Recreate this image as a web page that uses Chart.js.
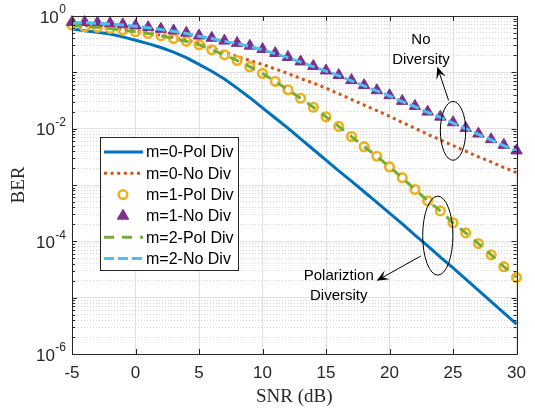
<!DOCTYPE html>
<html>
<head>
<meta charset="utf-8">
<script src="https://cdn.jsdelivr.net/npm/chart.js@4.4.1/dist/chart.umd.min.js"></script>
<style>
  html, body { margin: 0; padding: 0; background: #fff; }
</style>
</head>
<body>
<canvas id="chart" width="535" height="409"></canvas>
<script>
// SNR (dB) axis values, one marker per dB
const snr = [-5,-4,-3,-2,-1,0,1,2,3,4,5,6,7,8,9,10,11,12,13,14,15,16,17,18,19,20,21,22,23,24,25,26,27,28,29,30]

// log10(BER)
const m0Pol = [-0.23,-0.26,-0.29,-0.32,-0.37,-0.43,-0.49,-0.56,-0.64,-0.74,-0.86,-0.98,-1.12,-1.28,-1.45,-1.63,-1.81,-1.99,-2.18,-2.37,-2.56,-2.75,-2.93,-3.12,-3.31,-3.50,-3.69,-3.89,-4.08,-4.28,-4.47,-4.67,-4.87,-5.07,-5.27,-5.47]
const m0No  = [-0.15,-0.17,-0.19,-0.21,-0.24,-0.27,-0.30,-0.34,-0.38,-0.43,-0.48,-0.56,-0.64,-0.72,-0.79,-0.86,-0.94,-1.02,-1.11,-1.19,-1.28,-1.38,-1.48,-1.58,-1.68,-1.78,-1.89,-1.99,-2.10,-2.20,-2.30,-2.40,-2.50,-2.59,-2.69,-2.78]
const m1Pol = [-0.16,-0.19,-0.20,-0.22,-0.25,-0.28,-0.31,-0.35,-0.40,-0.45,-0.51,-0.60,-0.69,-0.79,-0.90,-1.02,-1.16,-1.31,-1.46,-1.62,-1.79,-1.96,-2.14,-2.32,-2.49,-2.68,-2.87,-3.08,-3.28,-3.46,-3.67,-3.85,-4.04,-4.24,-4.45,-4.64]
const m1No  = [-0.11,-0.11,-0.12,-0.13,-0.15,-0.17,-0.20,-0.23,-0.26,-0.30,-0.35,-0.39,-0.44,-0.48,-0.53,-0.59,-0.66,-0.73,-0.81,-0.89,-0.97,-1.05,-1.14,-1.23,-1.32,-1.41,-1.51,-1.60,-1.70,-1.79,-1.89,-1.99,-2.09,-2.19,-2.29,-2.39]
const m2Pol = [-0.16,-0.19,-0.20,-0.22,-0.25,-0.28,-0.31,-0.35,-0.40,-0.45,-0.51,-0.60,-0.69,-0.79,-0.90,-1.02,-1.16,-1.31,-1.46,-1.62,-1.79,-1.96,-2.14,-2.32,-2.49,-2.68,-2.87,-3.08,-3.28,-3.46,-3.67,-3.85,-4.04,-4.24,-4.45,-4.64]
const m2No  = [-0.12,-0.12,-0.13,-0.14,-0.16,-0.18,-0.21,-0.24,-0.27,-0.31,-0.36,-0.40,-0.45,-0.49,-0.54,-0.60,-0.67,-0.74,-0.82,-0.90,-0.98,-1.06,-1.15,-1.24,-1.33,-1.42,-1.52,-1.61,-1.71,-1.80,-1.90,-2.00,-2.10,-2.20,-2.30,-2.40]

const labels = ['m=0-Pol Div','m=0-No Div','m=1-Pol Div','m=1-No Div','m=2-Pol Div','m=2-No Div']

// y axis decades (labelled) and minor multipliers
const yDecades = [0,-2,-4,-6]
const yMinor = [2,3,4,5,6,7,8,9]
const xTicks = [-5,0,5,10,15,20,25,30]

const toPts = (arr) => arr.map((v, i) => ({x: snr[i], y: Math.pow(10, v)}))

const AXIS = '#262626'

const datasets = [
  {label: labels[0], data: toPts(m0Pol), borderColor: '#0072BD', borderWidth: 3, pointRadius: 0, order: 6},
  {label: labels[1], data: toPts(m0No), borderColor: '#D95319', borderWidth: 3, borderDash: [3, 3.6], borderCapStyle: 'butt', pointRadius: 0, order: 5},
  {label: labels[2], data: toPts(m1Pol), showLine: false, pointStyle: 'circle', pointRadius: 4.3, pointBorderWidth: 2.6,
    pointBorderColor: '#EDB120', pointBackgroundColor: 'rgba(255,255,255,0)', borderColor: '#EDB120', order: 4},
  {label: labels[3], data: toPts(m1No), showLine: false, pointStyle: 'triangle', pointRadius: 6.6, pointBorderWidth: 1,
    pointBorderColor: '#7E2F8E', pointBackgroundColor: '#7E2F8E', borderColor: '#7E2F8E', order: 3},
  {label: labels[4], data: toPts(m2Pol), borderColor: '#77AC30', borderWidth: 3, borderDash: [10, 8], pointRadius: 0, order: 2},
  {label: labels[5], data: toPts(m2No), borderColor: '#4DBEEE', borderWidth: 3, borderDash: [10, 4], pointRadius: 0, order: 1},
]
datasets.forEach(d => { d.fill = false; d.tension = 0; d.clip = false })

/* ticks, y labels, legend box and the two annotations */
const decorations = {
  id: 'decorations',
  afterDraw(chart) {
    const {ctx, chartArea: a} = chart
    const x = chart.scales.x, y = chart.scales.y
    ctx.save()

    // inward ticks
    ctx.strokeStyle = AXIS
    ctx.lineWidth = 1
    ctx.beginPath()
    xTicks.forEach(v => {
      const px = Math.round(x.getPixelForValue(v)) + 0.5
      ctx.moveTo(px, a.bottom); ctx.lineTo(px, a.bottom - 5)
      ctx.moveTo(px, a.top); ctx.lineTo(px, a.top + 5)
    })
    y.ticks.forEach(t => {
      const py = Math.round(y.getPixelForValue(t.value)) + 0.5
      const len = t.major ? 5 : 3
      ctx.moveTo(a.left, py); ctx.lineTo(a.left + len, py)
      ctx.moveTo(a.right, py); ctx.lineTo(a.right - len, py)
    })
    ctx.stroke()

    // box
    ctx.strokeRect(Math.round(a.left) + 0.5, Math.round(a.top) + 0.5,
      Math.round(a.right - a.left), Math.round(a.bottom - a.top))

    // y labels 10^n
    ctx.fillStyle = AXIS
    ctx.textBaseline = 'middle'
    yDecades.forEach(e => {
      const py = y.getPixelForValue(Math.pow(10, e))
      const sup = String(e)
      ctx.font = '12px "Liberation Sans", Arial, sans-serif'
      const wSup = ctx.measureText(sup).width
      const right = a.left - 6
      ctx.textAlign = 'left'
      ctx.fillText(sup, right - wSup, py - 6)
      ctx.font = '17px "Liberation Sans", Arial, sans-serif'
      ctx.textAlign = 'right'
      ctx.fillText('10', right - wSup - 0.5, py + 2)
    })

    // legend
    const lx = 100, ly = 137, lw = 138, lh = 133
    ctx.fillStyle = '#fff'
    ctx.fillRect(lx, ly, lw, lh)
    ctx.strokeStyle = AXIS
    ctx.strokeRect(lx + 0.5, ly + 0.5, lw, lh)
    chart.data.datasets.forEach((d, i) => {
      const cy = 152 + i * 21.3
      if (d.showLine !== false) {
        ctx.save()
        ctx.strokeStyle = d.borderColor
        ctx.lineWidth = d.borderWidth
        ctx.setLineDash(d.borderDash || [])
        ctx.beginPath(); ctx.moveTo(104, cy); ctx.lineTo(143, cy); ctx.stroke()
        ctx.restore()
      }
      if (d.pointRadius > 0) drawMarker(ctx, d, 123, cy)
      ctx.fillStyle = '#000'
      ctx.font = '16px "Liberation Sans", Arial, sans-serif'
      ctx.textAlign = 'left'
      ctx.textBaseline = 'middle'
      ctx.fillText(d.label, 146, cy + 1)
    })

    // annotations
    ctx.strokeStyle = '#000'
    ctx.fillStyle = '#000'
    ctx.lineWidth = 1
    const P = (sx, e) => [x.getPixelForValue(sx), y.getPixelForValue(Math.pow(10, e))]
    const ellipse = (sx, eTop, eBot, dx) => {
      const [cx] = P(sx, 0)
      const top = P(sx, eTop)[1], bot = P(sx, eBot)[1]
      const rx = x.getPixelForValue(sx + dx) - cx
      ctx.beginPath()
      ctx.ellipse(cx, (top + bot) / 2, rx, (bot - top) / 2, 0, 0, Math.PI * 2)
      ctx.stroke()
    }
    const arrow = (from, to) => {
      const [x1, y1] = from, [x2, y2] = to
      const ang = Math.atan2(y2 - y1, x2 - x1)
      const c = Math.cos(ang), s = Math.sin(ang)
      ctx.beginPath(); ctx.moveTo(x1, y1)
      ctx.lineTo(x2 - 7 * c, y2 - 7 * s); ctx.stroke()
      ctx.beginPath()
      ctx.moveTo(x2, y2)
      ctx.lineTo(x2 - 12 * c + 5 * s, y2 - 12 * s - 5 * c)
      ctx.lineTo(x2 - 7 * c, y2 - 7 * s)
      ctx.lineTo(x2 - 12 * c - 5 * s, y2 - 12 * s + 5 * c)
      ctx.closePath(); ctx.fill()
    }
    ellipse(25, -1.517, -2.561, 1.0)
    arrow(P(24.65, -1.50), P(23.76, -0.90))
    ellipse(23.8, -3.198, -4.60, 1.19)
    arrow(P(22.47, -4.26), P(18.98, -4.70))

    ctx.font = '15px "Liberation Sans", Arial, sans-serif'
    ctx.textAlign = 'center'
    ctx.textBaseline = 'middle'
    let p = P(22.47, -0.425); ctx.fillText('No', p[0], p[1])
    p = P(22.47, -0.779); ctx.fillText('Diversity', p[0], p[1])
    p = P(16.0, -4.61); ctx.fillText('Polariztion', p[0], p[1])
    p = P(16.0, -4.97); ctx.fillText('Diversity', p[0], p[1])

    ctx.restore()
  }
}

function drawMarker(ctx, d, cx, cy) {
  ctx.save()
  ctx.lineWidth = d.pointBorderWidth
  ctx.strokeStyle = d.pointBorderColor
  ctx.fillStyle = d.pointBackgroundColor
  const r = d.pointRadius
  ctx.beginPath()
  if (d.pointStyle === 'triangle') {
    ctx.moveTo(cx, cy - r)
    ctx.lineTo(cx + r * Math.sin(Math.PI * 2 / 3), cy - r * Math.cos(Math.PI * 2 / 3))
    ctx.lineTo(cx + r * Math.sin(Math.PI * 4 / 3), cy - r * Math.cos(Math.PI * 4 / 3))
    ctx.closePath()
  } else {
    ctx.arc(cx, cy, r, 0, Math.PI * 2)
  }
  ctx.fill(); ctx.stroke()
  ctx.restore()
}

new Chart(document.getElementById('chart'), {
  type: 'line',
  data: {datasets},
  options: {
    responsive: false,
    animation: false,
    devicePixelRatio: 1,
    layout: {padding: {top: 16, right: 11, left: 0, bottom: 0}},
    plugins: {legend: {display: false}, tooltip: {enabled: false}},
    scales: {
      x: {
        type: 'linear', min: -5, max: 30,
        ticks: {stepSize: 5, padding: 9, color: AXIS, font: {family: '"Liberation Sans", Arial, sans-serif', size: 17}},
        grid: {color: '#e1e1e1', drawTicks: false},
        border: {display: false},
        title: {display: true, text: 'SNR (dB)', color: AXIS, padding: {top: 0, bottom: 1},
          font: {family: '"Liberation Serif", "Times New Roman", serif', size: 19}},
        afterFit: (s) => { s.height = 55 }
      },
      y: {
        type: 'logarithmic', min: 1e-6, max: 1,
        ticks: {display: false},
        afterBuildTicks: (s) => {
          const t = []
          yDecades.concat([-1,-3,-5]).forEach(e => {
            t.push({value: Math.pow(10, e), major: true})
            if (e < 0) yMinor.forEach(m => t.push({value: m * Math.pow(10, e), major: false}))
          })
          s.ticks = t.sort((p, q) => p.value - q.value)
        },
        grid: {
          drawTicks: false,
          color: (c) => c.tick && c.tick.major ? '#e1e1e1' : '#d4d4d4'
        },
        border: {display: false, dash: (c) => c.tick && c.tick.major ? [] : [1, 2]},
        title: {display: true, text: 'BER', color: AXIS, padding: {top: 8, bottom: 0},
          font: {family: '"Liberation Serif", "Times New Roman", serif', size: 19}},
        afterFit: (s) => { s.width = 72 }
      }
    }
  },
  plugins: [decorations]
})
</script>
</body>
</html>
